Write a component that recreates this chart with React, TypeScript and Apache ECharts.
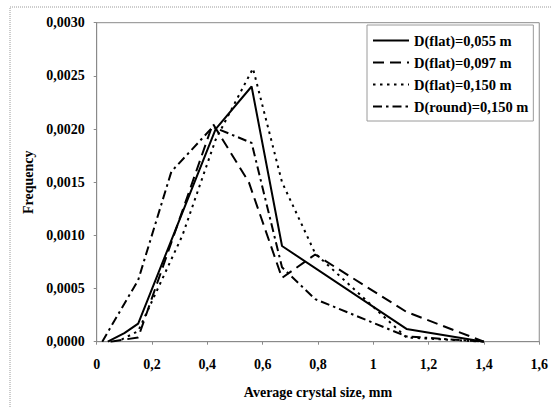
import React, { useEffect, useRef } from "react";
import * as echarts from "echarts";

const seriesNames = [
  "D(flat)=0,055 m",
  "D(flat)=0,097 m",
  "D(flat)=0,150 m",
  "D(round)=0,150 m",
];

const flat055X = [0.04, 0.1, 0.15, 0.43, 0.56, 0.67, 1.12, 1.4];
const flat055Y = [0, 0.00008, 0.00017, 0.002, 0.0024, 0.0009, 0.00012, 0];

const flat097X = [0.05, 0.15, 0.42, 0.55, 0.67, 0.79, 1.12, 1.4];
const flat097Y = [0, 0.00004, 0.00205, 0.0015, 0.0006, 0.00082, 0.00028, 0];

const flat150X = [0.09, 0.15, 0.31, 0.43, 0.565, 0.67, 0.79, 1.12, 1.4];
const flat150Y = [0.00002, 0.0001, 0.001, 0.0019, 0.00257, 0.0015, 0.00083, 0.00004, 0];

const round150X = [0.02, 0.15, 0.27, 0.42, 0.56, 0.67, 0.79, 1.12, 1.4];
const round150Y = [0, 0.00058, 0.0016, 0.00202, 0.00187, 0.0007, 0.0004, 0.00005, 0];

const xTitle = "Average crystal size, mm";
const yTitle = "Frequency";

const pair = (xs: number[], ys: number[]) => xs.map((x, i) => [x, ys[i]]);

const FONT = "'Liberation Serif', 'Times New Roman', serif";

export default function App() {
  const ref = useRef<HTMLDivElement>(null);
  useEffect(() => {
    if (!ref.current) return;
    const chart = echarts.init(ref.current, null, { renderer: "svg" });
    const styles: any[] = [
      { type: "solid" },
      { type: [11, 6] },
      { type: [2.5, 4.5] },
      { type: [9, 4, 2.5, 4] },
    ];
    const datas = [
      pair(flat055X, flat055Y),
      pair(flat097X, flat097Y),
      pair(flat150X, flat150Y),
      pair(round150X, round150Y),
    ];
    chart.setOption({
      animation: false,
      backgroundColor: "#ffffff",
      textStyle: { fontFamily: FONT },
      graphic: [
        {
          type: "rect",
          shape: { x: 10, y: 7, width: 600, height: 500 },
          style: { fill: "none", stroke: "#9a9a9a", lineWidth: 1, lineDash: [1, 1] },
          silent: true,
        },
      ],
      grid: {
        left: 96.7,
        top: 22.7,
        right: 9.3,
        bottom: 65.3,
        show: true,
        borderColor: "#8a8a8a",
        borderWidth: 1,
        backgroundColor: "transparent",
      },
      legend: {
        orient: "vertical",
        left: 367,
        top: 25,
        padding: [8, 5, 7, 5],
        itemWidth: 36,
        itemHeight: 15,
        itemGap: 7,
        backgroundColor: "#ffffff",
        borderColor: "#9a9a9a",
        borderWidth: 1,
        itemStyle: { color: "rgba(0,0,0,0)", borderColor: "rgba(0,0,0,0)", borderWidth: 0, opacity: 0 },
        textStyle: { fontFamily: FONT, fontWeight: "bold", fontSize: 14.5, color: "#000" },
        data: seriesNames,
      },
      xAxis: {
        type: "value",
        min: 0,
        max: 1.6,
        interval: 0.2,
        name: xTitle,
        nameLocation: "middle",
        nameGap: 44,
        nameTextStyle: { fontFamily: FONT, fontWeight: "bold", fontSize: 14, color: "#000" },
        axisLine: { show: true, lineStyle: { color: "#8a8a8a", width: 1 } },
        axisTick: { show: true, length: 3, lineStyle: { color: "#8a8a8a" } },
        splitLine: { show: false },
        axisLabel: {
          margin: 16,
          fontFamily: FONT,
          fontWeight: "bold",
          fontSize: 14,
          color: "#000",
          formatter: (v: number) => String(Math.round(v * 10) / 10).replace(".", ","),
        },
      },
      yAxis: {
        type: "value",
        min: 0,
        max: 0.003,
        interval: 0.0005,
        name: yTitle,
        nameLocation: "middle",
        nameGap: 60,
        nameTextStyle: { fontFamily: FONT, fontWeight: "bold", fontSize: 14, color: "#000" },
        axisLine: { show: true, lineStyle: { color: "#8a8a8a", width: 1 } },
        axisTick: { show: true, length: 3, lineStyle: { color: "#8a8a8a" } },
        splitLine: { show: false },
        axisLabel: {
          margin: 12,
          fontFamily: FONT,
          fontWeight: "bold",
          fontSize: 14,
          color: "#000",
          formatter: (v: number) => v.toFixed(4).replace(".", ","),
        },
      },
      series: seriesNames.map((name, i) => ({
        name,
        type: "line",
        data: datas[i],
        symbol: "none",
        showSymbol: false,
        lineStyle: { color: "#000", width: 2, ...styles[i] },
        itemStyle: { color: "#000" },
      })),
    });
    return () => chart.dispose();
  }, []);
  return (
    <div
      ref={ref}
      style={{ position: "fixed", left: 0, top: 0, width: 551, height: 407 }}
    />
  );
}
